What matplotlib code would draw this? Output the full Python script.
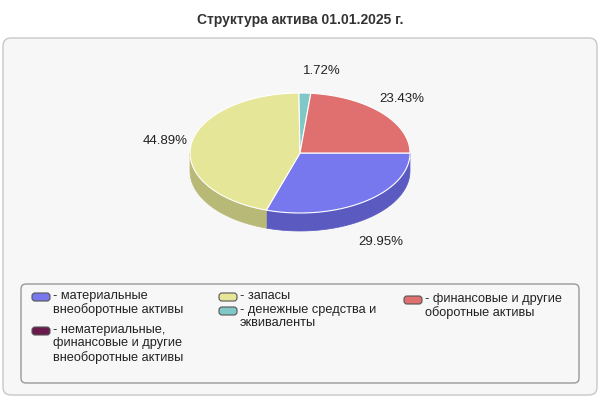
import numpy as np
import matplotlib.pyplot as plt
from matplotlib.patches import Polygon, FancyBboxPatch

plt.rcParams['font.family'] = ['Liberation Sans', 'DejaVu Sans']

title = "Структура актива 01.01.2025 г."
labels = ["- материальные\nвнеоборотные активы", "- запасы", "- финансовые и другие\nоборотные активы",
          "- нематериальные,\nфинансовые и другие\nвнеоборотные активы", "- денежные средства и\nэквиваленты"]
values = [29.95, 44.89, 1.72, 23.43]   # blue, yellow, teal, red (clockwise from 3 o'clock)
pie_colors = ["#7777ee", "#e6e699", "#80c8c8", "#e07070"]
side_colors = ["#5a5ac0", "#b9b977", "#5fa0a0", "#b85555"]
legend_colors = ["#7777ee", "#e6e699", "#e07070", "#6a1a4a", "#80c8c8"]

fig = plt.figure(figsize=(6, 4), dpi=100)
ax = fig.add_axes([0, 0, 1, 1])
ax.set_xlim(0, 600); ax.set_ylim(400, 0); ax.axis("off")

ax.add_patch(FancyBboxPatch((3, 38), 594, 357, boxstyle="round,pad=0,rounding_size=8",
                            fc="#f7f7f7", ec="#c8c8c8", lw=1))
ax.text(300, 20, title, ha="center", va="center", fontsize=10, fontweight="bold", color="#333333")

cx, cy, rx, ry, depth = 300, 153, 110, 60, 18
total = sum(values)
angles = [0]
for v in values:
    angles.append(angles[-1] - v / total * 360)

def pt(a, d=0):
    r = np.radians(a)
    return cx + rx * np.cos(r), cy - ry * np.sin(r) + d

for i in range(len(values)):
    a0, a1 = angles[i], angles[i + 1]
    lo, hi = max(min(a0, a1), -180), min(max(a0, a1), 0)
    lo2, hi2 = max(min(a0, a1), -540), min(max(a0, a1), -360)
    for l, h in [(lo, hi), (lo2, hi2)]:
        if h > l:
            t = np.linspace(l, h, 60)
            top = [pt(a) for a in t]
            bot = [pt(a, depth) for a in t[::-1]]
            ax.add_patch(Polygon(top + bot, closed=True, fc=side_colors[i], ec=side_colors[i], lw=0.5))

for i in range(len(values)):
    t = np.linspace(angles[i], angles[i + 1], 100)
    poly = [(cx, cy)] + [pt(a) for a in t]
    ax.add_patch(Polygon(poly, closed=True, fc=pie_colors[i], ec="white", lw=0.8))

label_r = [1.25, 1.24, 1.0, 1.25]
for i, v in enumerate(values):
    mid = (angles[i] + angles[i + 1]) / 2
    s = np.sin(np.radians(mid))
    x = cx + rx * label_r[i] * np.cos(np.radians(mid))
    y = cy - ry * 1.35 * s
    if s < 0:
        y += depth + 6
    if i == 2:
        x, y = cx + 22, cy - 82
    ax.text(x, y, f"{v:.2f}%", ha="center", va="center", fontsize=9.5, color="#222222")

ax.add_patch(FancyBboxPatch((21, 284), 558, 99, boxstyle="round,pad=0,rounding_size=5",
                            fc="#f7f7f7", ec="#999999", lw=1))
pos = [(33, 297), (220, 297), (405, 300), (33, 331), (220, 311)]
for (x, y), lab, c in zip(pos, labels, legend_colors):
    ax.add_patch(FancyBboxPatch((x - 1, y - 4), 18, 8, boxstyle="round,pad=0,rounding_size=3",
                                fc=c, ec="#555555", lw=0.8))
    ax.text(x + 20, y - 7, lab, ha="left", va="top", fontsize=9.2, color="#222222", linespacing=1.15)

fig.savefig("out.png", dpi=100)
